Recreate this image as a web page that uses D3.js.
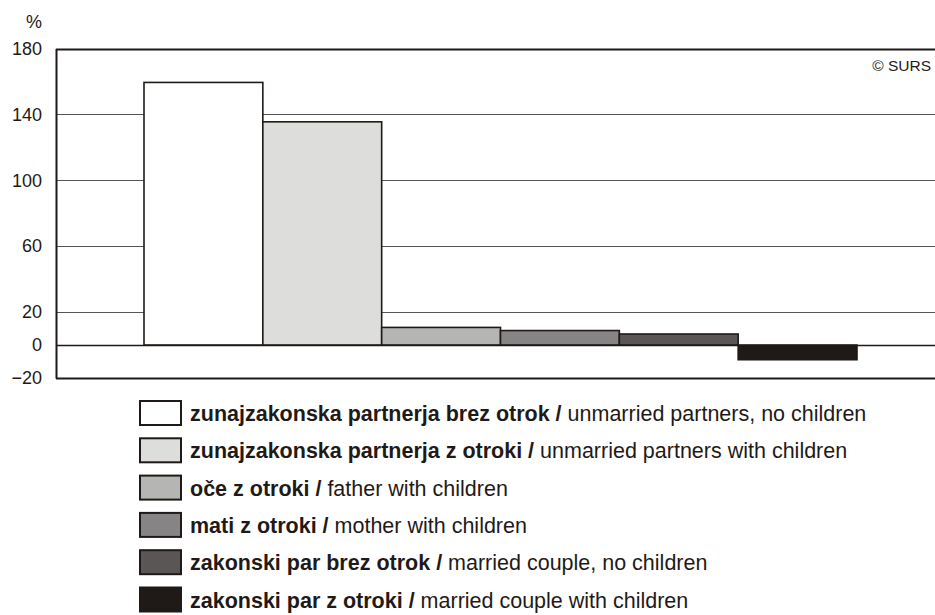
<!DOCTYPE html>
<html>
<head>
<meta charset="utf-8" />
<title>Households by type</title>
<style>
body { margin: 0; background: #fff; }
text { font-family: "Liberation Sans", Arial, sans-serif; fill: #1f1a17; }
.tick-label { font-size: 18px; }
.legend text { font-size: 21.5px; }
</style>
</head>
<body>
<div id="chart"></div>
<script src="https://d3js.org/d3.v7.min.js"></script>
<script>
// data
var categories = ['unmarriedNoChildren', 'unmarriedChildren', 'father', 'mother', 'marriedNoChildren', 'marriedChildren'];
var values = [159.4, 135.5, 10.7, 8.8, 6.7, -8.9];
var labelsSl = ['zunajzakonska partnerja brez otrok /', 'zunajzakonska partnerja z otroki /', 'oče z otroki /', 'mati z otroki /', 'zakonski par brez otrok /', 'zakonski par z otroki /'];
var labelsEn = ['unmarried partners, no children', 'unmarried partners with children', 'father with children', 'mother with children', 'married couple, no children', 'married couple with children'];
var colors = ['#ffffff', '#dddddc', '#b5b5b4', '#868484', '#5a5655', '#1f1a17'];
var yTicks = [-20, 0, 20, 60, 100, 140, 180];
var gridTicks = [20, 60, 100, 140];

var width = 935, height = 615;
var left = 56, right = 935;

var svg = d3.select('#chart').append('svg')
  .attr('width', width).attr('height', height);

var y = d3.scaleLinear().domain([-20, 180]).range([378, 48.5]);
var x = d3.scaleBand().domain(categories).range([144, 857]).paddingInner(0);
var color = d3.scaleOrdinal().domain(categories).range(colors);

// gridlines
svg.selectAll('.grid').data(gridTicks).enter().append('line')
  .attr('x1', left).attr('x2', right)
  .attr('y1', function(d) { return Math.round(y(d)) + 0.5; })
  .attr('y2', function(d) { return Math.round(y(d)) + 0.5; })
  .attr('stroke', '#555').attr('stroke-width', 1);

// bars
svg.selectAll('.bar').data(categories).enter().append('rect')
  .attr('x', function(d) { return x(d); })
  .attr('y', function(d, i) { return y(Math.max(0, values[i])); })
  .attr('width', x.bandwidth())
  .attr('height', function(d, i) { return Math.abs(y(values[i]) - y(0)); })
  .attr('fill', color)
  .attr('stroke', '#1f1a17').attr('stroke-width', 1.6);

// zero line, top and bottom frame
[0, 180, -20].forEach(function(v) {
  svg.append('line')
    .attr('x1', left).attr('x2', right)
    .attr('y1', Math.round(y(v)) + 0.5).attr('y2', Math.round(y(v)) + 0.5)
    .attr('stroke', '#1f1a17').attr('stroke-width', v === 0 ? 1.3 : 2);
});

// y axis
var yAxis = d3.axisLeft(y).tickValues(yTicks).tickSize(0).tickPadding(14);
var ga = svg.append('g').attr('transform', 'translate(' + left + ',0)').call(yAxis);
ga.select('.domain').attr('stroke', '#1f1a17').attr('stroke-width', 2);
ga.selectAll('text').attr('class', 'tick-label').attr('fill', '#1f1a17')
  .style('font-size', '18px').style('font-family', '"Liberation Sans", Arial, sans-serif');

svg.append('text').attr('class', 'tick-label').attr('x', 26).attr('y', 28).text('%');
svg.append('text').attr('x', 931).attr('y', 71).attr('text-anchor', 'end')
  .style('font-size', '15.5px').text('© SURS');

// legend
var legend = svg.selectAll('.legend').data(categories).enter().append('g')
  .attr('class', 'legend')
  .attr('transform', function(d, i) { return 'translate(140,' + (401 + i * 37.3) + ')'; });

legend.append('rect')
  .attr('width', 41).attr('height', 24)
  .attr('fill', color)
  .attr('stroke', '#1f1a17').attr('stroke-width', 2);

var t = legend.append('text').attr('x', 50).attr('y', 20);
t.append('tspan').style('font-weight', 'bold').text(function(d, i) { return labelsSl[i]; });
t.append('tspan').text(function(d, i) { return ' ' + labelsEn[i]; });
</script>
</body>
</html>
